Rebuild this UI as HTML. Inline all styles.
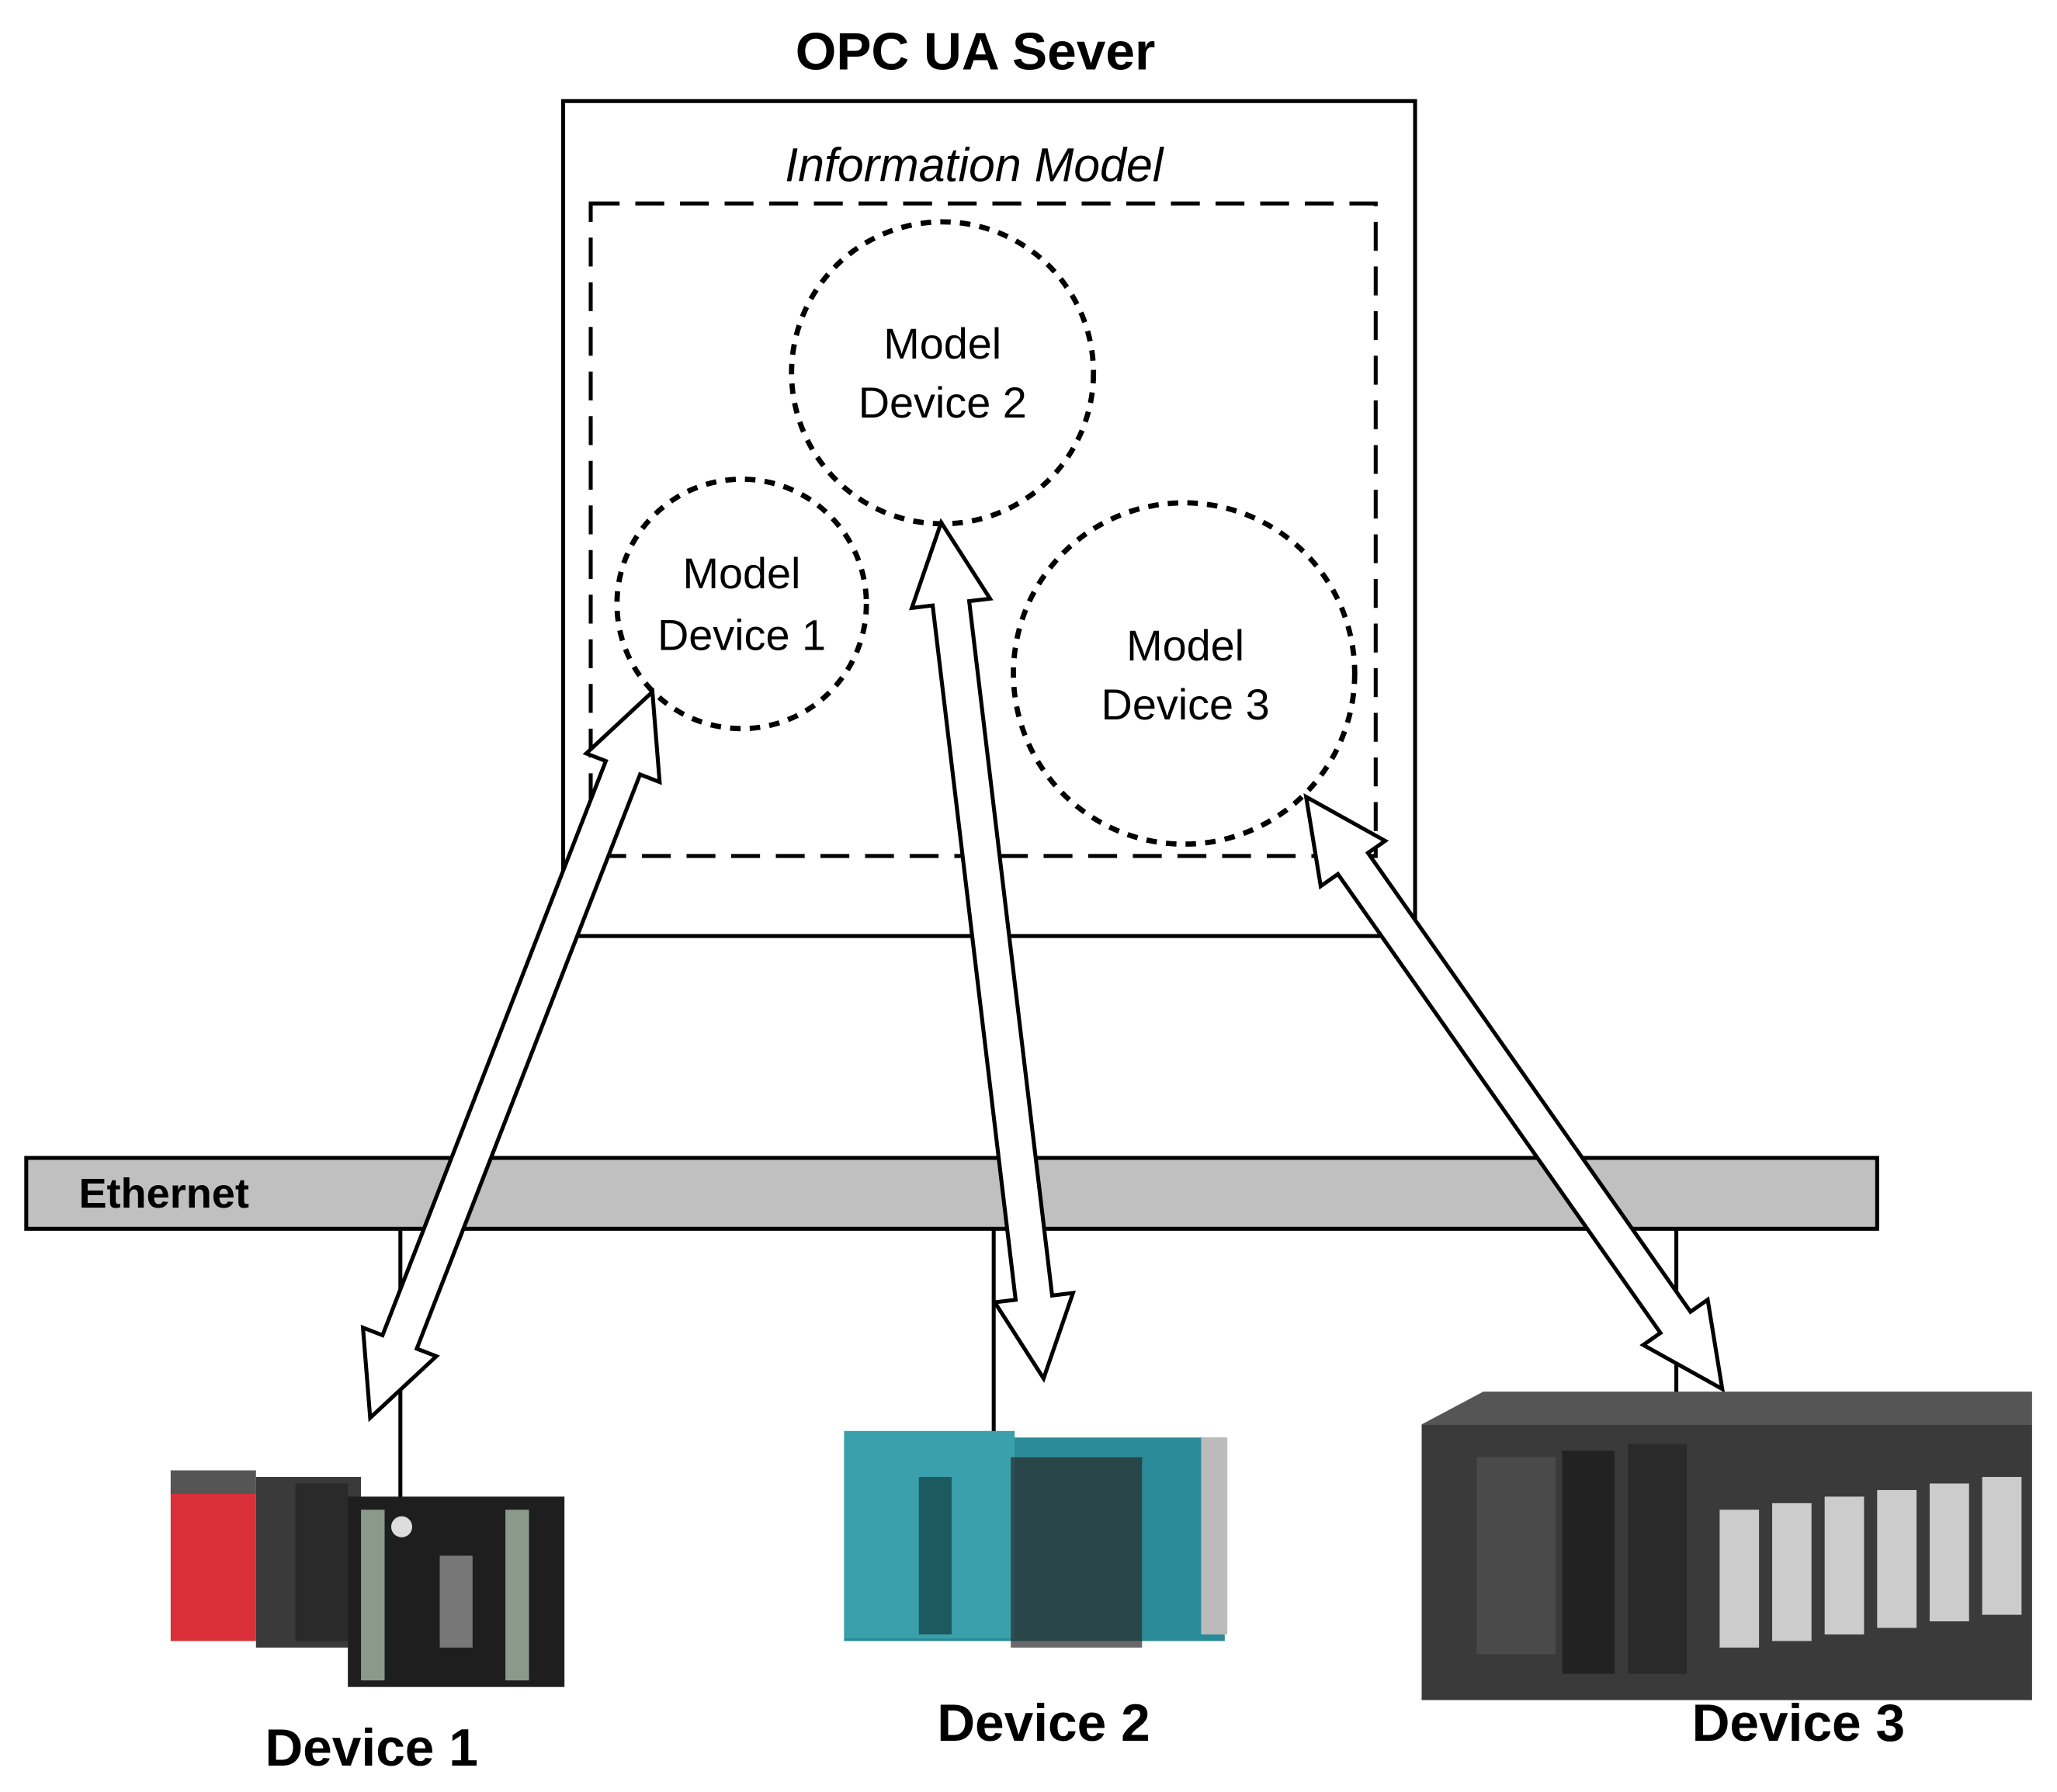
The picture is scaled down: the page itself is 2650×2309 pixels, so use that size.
<!DOCTYPE html>
<html><head><meta charset="utf-8"><style>
html,body{margin:0;padding:0;background:#fff}
svg{display:block}
text{font-family:"Liberation Sans",sans-serif}
</style></head><body>
<svg id="s" width="2650" height="2309" viewBox="0 0 1567 1365" preserveAspectRatio="none" xmlns="http://www.w3.org/2000/svg">
<rect width="1567" height="1365" fill="#fff"/>
<text x="743" y="53" text-anchor="middle" font-size="40" font-weight="bold">OPC UA Sever</text>
<rect x="429" y="77" width="649" height="636" fill="#fff" stroke="#000" stroke-width="3"/>
<text x="742" y="138" text-anchor="middle" font-size="36" font-style="italic">Information Model</text>
<rect x="450" y="155" width="598" height="497" fill="none" stroke="#000" stroke-width="3" stroke-dasharray="22,12"/>
<circle cx="718" cy="284" r="115" fill="#fff" stroke="#000" stroke-width="4" stroke-dasharray="8,7"/>
<circle cx="565" cy="460" r="95" fill="#fff" stroke="#000" stroke-width="4" stroke-dasharray="8,7"/>
<circle cx="902" cy="513" r="130" fill="#fff" stroke="#000" stroke-width="4" stroke-dasharray="8,7"/>
<g font-size="33" text-anchor="middle">
<text x="718" y="273">Model</text><text x="718" y="318">Device 2</text>
<text x="565" y="448">Model</text><text x="565" y="495">Device 1</text>
<text x="903" y="503">Model</text><text x="903" y="548">Device 3</text>
</g>
<rect x="20" y="882" width="1410" height="54" fill="#c0c0c0" stroke="#000" stroke-width="3"/>
<text x="60" y="920" font-size="32" font-weight="bold">Ethernet</text>
<g stroke="#000" stroke-width="3">
<line x1="305" y1="936" x2="305" y2="1160"/>
<line x1="757" y1="936" x2="757" y2="1092"/>
<line x1="1277" y1="936" x2="1277" y2="1062"/>
</g>
<g id="arrows"></g>
<g>
<rect x="130" y="1135" width="65" height="115" fill="#d9303a"/>
<rect x="130" y="1120" width="65" height="18" fill="#555"/>
<rect x="195" y="1125" width="80" height="130" fill="#3a3a3a"/>
<rect x="225" y="1130" width="40" height="120" fill="#2a2a2a"/>
<rect x="265" y="1140" width="165" height="145" fill="#1e1e1e"/>
<rect x="275" y="1150" width="18" height="130" fill="#8a9a8a"/>
<rect x="385" y="1150" width="18" height="130" fill="#8a9a8a"/>
<rect x="335" y="1185" width="25" height="70" fill="#777"/>
<circle cx="306" cy="1163" r="8" fill="#ddd"/>
</g>
<g>
<rect x="643" y="1095" width="290" height="155" fill="#2a8a96"/>
<rect x="643" y="1090" width="130" height="158" fill="#3aa0ab"/>
<rect x="700" y="1125" width="25" height="120" fill="#1d5a60"/>
<rect x="770" y="1110" width="100" height="145" fill="#2a2a2a" opacity="0.7"/>
<rect x="870" y="1115" width="60" height="135" fill="#2a8a96"/>
<rect x="915" y="1095" width="20" height="150" fill="#bbb"/>
</g>
<g>
<rect x="1083" y="1085" width="465" height="210" fill="#3a3a3a"/>
<polygon points="1083,1085 1130,1060 1548,1060 1548,1085" fill="#555"/>
<rect x="1125" y="1110" width="60" height="150" fill="#4a4a4a"/>
<rect x="1190" y="1105" width="40" height="170" fill="#222"/>
<rect x="1240" y="1100" width="45" height="175" fill="#2a2a2a"/>
<g fill="#ccc">
<rect x="1310" y="1150" width="30" height="105"/>
<rect x="1350" y="1145" width="30" height="105"/>
<rect x="1390" y="1140" width="30" height="105"/>
<rect x="1430" y="1135" width="30" height="105"/>
<rect x="1470" y="1130" width="30" height="105"/>
<rect x="1510" y="1125" width="30" height="105"/>
</g>
</g>
<g font-size="40" font-weight="bold" text-anchor="middle">
<text x="283" y="1345">Device 1</text>
<text x="795" y="1326">Device 2</text>
<text x="1370" y="1326">Device 3</text>
</g>
</svg>
<script>
function arrow(x1,y1,x2,y2){
 var dx=x2-x1,dy=y2-y1,L=Math.hypot(dx,dy),ux=dx/L,uy=dy/L,nx=-uy,ny=ux;
 var w=14,hw=30,hl=62;
 function p(t,o){return (x1+ux*t+nx*o).toFixed(1)+","+(y1+uy*t+ny*o).toFixed(1);}
 var pts=[p(0,0),p(hl,hw),p(hl,w),p(L-hl,w),p(L-hl,hw),p(L,0),p(L-hl,-hw),p(L-hl,-w),p(hl,-w),p(hl,-hw)];
 return '<polygon points="'+pts.join(" ")+'" fill="#fff" stroke="#000" stroke-width="3"/>';
}
document.getElementById("arrows").innerHTML=arrow(497,527,282,1080)+arrow(717,398,795,1050)+arrow(995,607,1312,1058);
</script>
</body></html>
